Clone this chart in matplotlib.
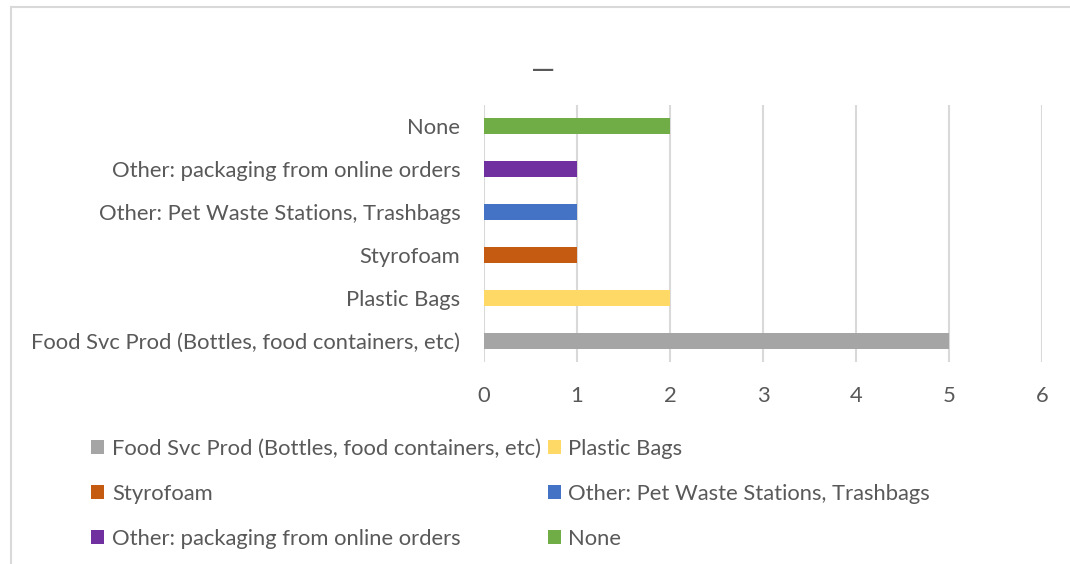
import matplotlib.pyplot as plt
from matplotlib.lines import Line2D

# categories (bottom to top as in the chart)
categorias = ["Food Svc Prod (Bottles, food containers, etc)", "Plastic Bags", "Styrofoam",
              "Other: Pet Waste Stations, Trashbags", "Other: packaging from online orders", "None"]
valores = [5, 2, 1, 1, 1, 2]
cores = ["#A5A5A5", "#FFD966", "#C55A11", "#4472C4", "#7030A0", "#70AD47"]
ticks_x = [0, 1, 2, 3, 4, 5, 6]

plt.rcParams['font.family'] = ['Lato', 'DejaVu Sans']
cinza_txt = "#595959"
tam = 15.85

fig = plt.figure(figsize=(10.7, 5.64), dpi=100)
ax = fig.add_axes([484 / 1070, 1 - 362 / 564, (1042 - 484) / 1070, (362 - 105) / 564])

barras = []
for i, (cat, v, c) in enumerate(zip(categorias, valores, cores)):
    b = ax.barh(i, v, height=0.37, color=c, label=cat, zorder=3)
    barras.append(b)

ax.set_xlim(0, 6)
ax.set_ylim(-0.5, len(categorias) - 0.5)
ax.set_xticks(ticks_x)
ax.set_yticks(range(len(categorias)))
ax.set_yticklabels(categorias)
ax.grid(axis='x', color="#D9D9D9", linewidth=1.5, zorder=0)
for s in ax.spines.values():
    s.set_visible(False)
ax.tick_params(axis='both', length=0, labelsize=tam, colors=cinza_txt)
ax.tick_params(axis='y', pad=17)
ax.tick_params(axis='x', pad=17.5)

# title (just a dash)
fig.text(543 / 1070, 1 - 70 / 564, "\u2014", ha='center', va='center', fontsize=22, color=cinza_txt)

# legend row-major order -> reorder for column filling
ordem = [0, 2, 4, 1, 3, 5]
handles = [barras[i] for i in ordem]
labels = [categorias[i] for i in ordem]
fig.legend(handles, labels, ncol=2, loc='upper left', bbox_to_anchor=(91 / 1070, 1 - 439 / 564),
           frameon=False, fontsize=tam, labelcolor=cinza_txt, labelspacing=1.13,
           columnspacing=0.3, handlelength=0.6, handleheight=0.6, handletextpad=0.35,
           borderpad=0, borderaxespad=0)

# outer chart frame
fig.add_artist(Line2D([11 / 1070, 11 / 1070], [0, 1 - 7 / 564], color="#D9D9D9", linewidth=1.5))
fig.add_artist(Line2D([11 / 1070, 1], [1 - 7 / 564, 1 - 7 / 564], color="#D9D9D9", linewidth=1.5))

plt.savefig("out.png", dpi=100)
